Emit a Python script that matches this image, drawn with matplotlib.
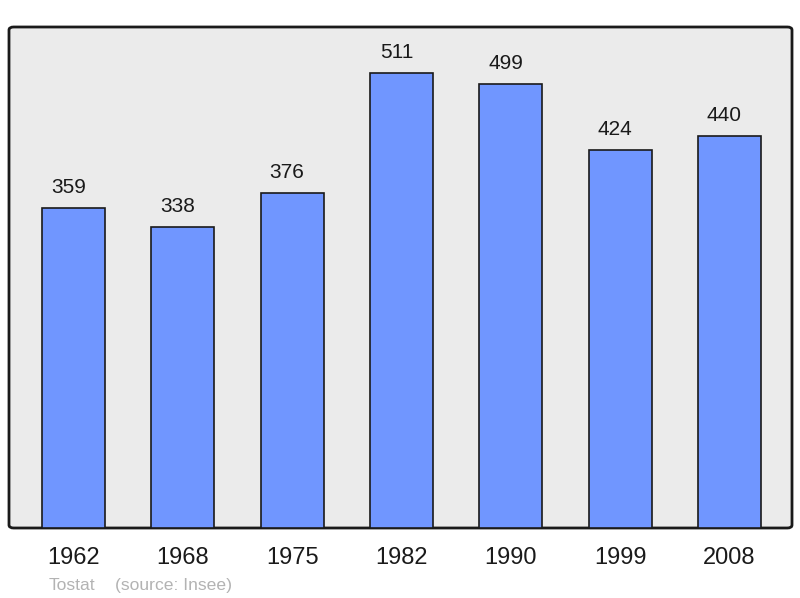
import matplotlib
matplotlib.use("Agg")
import matplotlib.pyplot as plt
from matplotlib.patches import FancyBboxPatch

years = ["1962", "1968", "1975", "1982", "1990", "1999", "2008"]
population = [359, 338, 376, 511, 499, 424, 440]

plt.rcParams['font.family'] = ['Liberation Sans', 'DejaVu Sans']

W, H = 800, 598
fig = plt.figure(figsize=(W / 100, H / 100), dpi=100)
left, right, top, bottom = 9, 792, 27, 528
ax = fig.add_axes([left / W, 1 - bottom / H, (right - left) / W, (bottom - top) / H])
ax.set_facecolor('none')

# rounded background frame
frame = FancyBboxPatch((0, 0), 1, 1,
                       boxstyle="round,pad=0,rounding_size=0.006",
                       transform=ax.transAxes, facecolor='#ebebeb',
                       edgecolor='#1a1a1a', linewidth=2.0, zorder=0, clip_on=False)
ax.add_patch(frame)

x = list(range(len(years)))
bars = ax.bar(x, population, width=0.576, color='#7096ff', edgecolor='#1a1a1a',
              linewidth=1.2, zorder=2)
for xi, v in zip(x, population):
    ax.annotate(str(v), (xi, v), xytext=(-5, 11), textcoords='offset pixels',
                ha='center', va='bottom', fontsize=15, color='#1a1a1a')

ax.set_xlim(-0.59, 6.572)
ax.set_ylim(0, 562.6)
for s in ax.spines.values():
    s.set_visible(False)
ax.set_yticks([])
ax.set_xticks(x)
ax.set_xticklabels(years, fontsize=17, color='#1a1a1a')
ax.tick_params(axis='x', length=0, pad=14)

fig.text(49 / W, 1 - 590 / H, "Tostat", fontsize=12.6, color='#b3b3b3', ha='left', va='baseline')
fig.text(115 / W, 1 - 590 / H, "(source: Insee)", fontsize=12.6, color='#b3b3b3', ha='left', va='baseline')

fig.savefig("out.png", dpi=100)
